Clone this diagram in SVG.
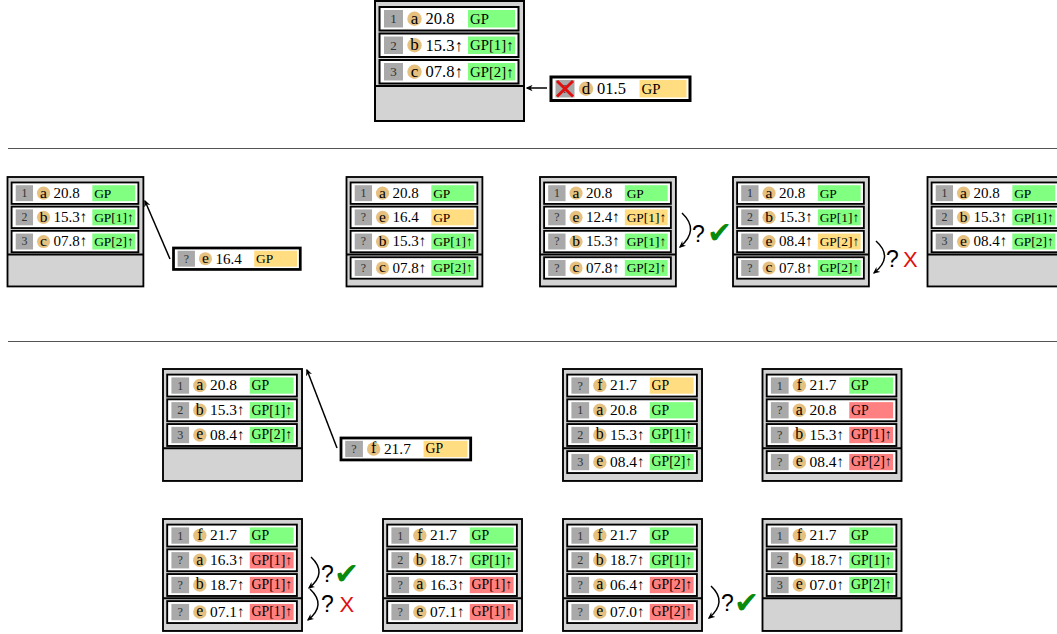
<svg xmlns="http://www.w3.org/2000/svg" xmlns:xlink="http://www.w3.org/1999/xlink" width="1057" height="634" viewBox="0 0 1057 634">
<style>
.ob{fill:#d3d3d3;stroke:#000;stroke-width:2}
.dv{stroke:#000;stroke-width:2}
.rw{fill:#fff;stroke:#000;stroke-width:2}
.rwc{fill:#fff;stroke:#000;stroke-width:3}
.nb{fill:#a9a9a9}
.ci{fill:#e6c07f}
.g{fill:#80ff80}
.y{fill:#ffdd80}
.r{fill:#ff8080}
text{font-family:"Liberation Serif","DejaVu Serif",serif;fill:#000}
.nt{font-size:13px;fill:#333;text-anchor:middle}
.lt{font-size:17px;text-anchor:middle}
.vt{font-size:16.5px}
.gt{font-size:14.8px}
.q{font-family:"Liberation Sans","DejaVu Sans",sans-serif;font-size:23px}
.ck{font-family:"DejaVu Sans",sans-serif;font-size:30px;fill:#0a8a0a}
.xx{font-family:"Liberation Sans","DejaVu Sans",sans-serif;font-size:22px;fill:#e01010}
.sep{stroke:#555;stroke-width:1}
.ar{fill:none;stroke:#000;stroke-width:1.5;marker-end:url(#ah)}
.rx{stroke:#e01010;stroke-width:3}
</style>
<defs>
<marker id="ah" viewBox="0 0 10 10" refX="8" refY="5" markerWidth="7" markerHeight="7" markerUnits="userSpaceOnUse" orient="auto">
<path d="M0,0.5 L10,5 L0,9.5 L3,5 z" fill="#000"/>
</marker>
<g id="rb"><rect class="rw" width="139" height="23.5"/><rect class="nb" x="4.5" y="3" width="19" height="17.5"/><circle class="ci" cx="35" cy="11.75" r="7.2"/></g>
<g id="rbc"><rect class="rwc" width="139" height="23.5"/><rect class="nb" x="4.5" y="3" width="19" height="17.5"/><circle class="ci" cx="35" cy="11.75" r="7.2"/></g>
<g id="frame"><rect class="ob" width="149" height="120"/><line class="dv" x1="0" y1="85" x2="149" y2="85"/></g>
</defs>

<g id="separators">
<line class="sep" x1="8" y1="148.5" x2="1057" y2="148.5"/>
<line class="sep" x1="8" y1="341.5" x2="1057" y2="341.5"/>
</g>

<!-- Top -->
<g id="box-top" transform="translate(375,1)">
<use href="#frame"/>
<g transform="translate(4.5,6)"><use href="#rb"/><rect class="g" x="88.5" y="3" width="47" height="17.5"/><text class="nt" x="14" y="16">1</text><text class="lt" x="35" y="16.5">a</text><text class="vt" x="46" y="17">20.8</text><text class="gt" x="90.5" y="16.5">GP</text></g>
<g transform="translate(4.5,32.5)"><use href="#rb"/><rect class="g" x="88.5" y="3" width="47" height="17.5"/><text class="nt" x="14" y="16">2</text><text class="lt" x="35" y="16.5">b</text><text class="vt" x="46" y="17">15.3↑</text><text class="gt" x="90.5" y="16.5">GP[1]↑</text></g>
<g transform="translate(4.5,59)"><use href="#rb"/><rect class="g" x="88.5" y="3" width="47" height="17.5"/><text class="nt" x="14" y="16">3</text><text class="lt" x="35" y="16.5">c</text><text class="vt" x="46" y="17">07.8↑</text><text class="gt" x="90.5" y="16.5">GP[2]↑</text></g>
</g>
<g id="cand-d" transform="translate(551,77)">
<use href="#rbc"/><rect class="y" x="88.5" y="3" width="47" height="17.5"/><text class="nt" x="14" y="16">?</text><line class="rx" x1="6" y1="4" x2="22" y2="19.5"/><line class="rx" x1="22" y1="4" x2="6" y2="19.5"/><text class="lt" x="35" y="16.5">d</text><text class="vt" x="46" y="17">01.5</text><text class="gt" x="90.5" y="16.5">GP</text>
</g>

<!-- Row 2 -->
<g id="box-b1" transform="translate(7.5,177) scale(0.912)">
<use href="#frame"/>
<g transform="translate(4.5,6)"><use href="#rb"/><rect class="g" x="88.5" y="3" width="47" height="17.5"/><text class="nt" x="14" y="16">1</text><text class="lt" x="35" y="16.5">a</text><text class="vt" x="46" y="17">20.8</text><text class="gt" x="90.5" y="16.5">GP</text></g>
<g transform="translate(4.5,32.5)"><use href="#rb"/><rect class="g" x="88.5" y="3" width="47" height="17.5"/><text class="nt" x="14" y="16">2</text><text class="lt" x="35" y="16.5">b</text><text class="vt" x="46" y="17">15.3↑</text><text class="gt" x="90.5" y="16.5">GP[1]↑</text></g>
<g transform="translate(4.5,59)"><use href="#rb"/><rect class="g" x="88.5" y="3" width="47" height="17.5"/><text class="nt" x="14" y="16">3</text><text class="lt" x="35" y="16.5">c</text><text class="vt" x="46" y="17">07.8↑</text><text class="gt" x="90.5" y="16.5">GP[2]↑</text></g>
</g>
<g id="cand-e" transform="translate(173.5,248) scale(0.912)">
<use href="#rbc"/><rect class="y" x="88.5" y="3" width="47" height="17.5"/><text class="nt" x="14" y="16">?</text><text class="lt" x="35" y="16.5">e</text><text class="vt" x="46" y="17">16.4</text><text class="gt" x="90.5" y="16.5">GP</text>
</g>

<g id="box-b2" transform="translate(346.5,177) scale(0.912)">
<use href="#frame"/>
<g transform="translate(4.5,6)"><use href="#rb"/><rect class="g" x="88.5" y="3" width="47" height="17.5"/><text class="nt" x="14" y="16">1</text><text class="lt" x="35" y="16.5">a</text><text class="vt" x="46" y="17">20.8</text><text class="gt" x="90.5" y="16.5">GP</text></g>
<g transform="translate(4.5,32.5)"><use href="#rb"/><rect class="y" x="88.5" y="3" width="47" height="17.5"/><text class="nt" x="14" y="16">?</text><text class="lt" x="35" y="16.5">e</text><text class="vt" x="46" y="17">16.4</text><text class="gt" x="90.5" y="16.5">GP</text></g>
<g transform="translate(4.5,59)"><use href="#rb"/><rect class="g" x="88.5" y="3" width="47" height="17.5"/><text class="nt" x="14" y="16">?</text><text class="lt" x="35" y="16.5">b</text><text class="vt" x="46" y="17">15.3↑</text><text class="gt" x="90.5" y="16.5">GP[1]↑</text></g>
<g transform="translate(4.5,88)"><use href="#rb"/><rect class="g" x="88.5" y="3" width="47" height="17.5"/><text class="nt" x="14" y="16">?</text><text class="lt" x="35" y="16.5">c</text><text class="vt" x="46" y="17">07.8↑</text><text class="gt" x="90.5" y="16.5">GP[2]↑</text></g>
</g>

<g id="box-b3" transform="translate(540,177) scale(0.912)">
<use href="#frame"/>
<g transform="translate(4.5,6)"><use href="#rb"/><rect class="g" x="88.5" y="3" width="47" height="17.5"/><text class="nt" x="14" y="16">1</text><text class="lt" x="35" y="16.5">a</text><text class="vt" x="46" y="17">20.8</text><text class="gt" x="90.5" y="16.5">GP</text></g>
<g transform="translate(4.5,32.5)"><use href="#rb"/><rect class="y" x="88.5" y="3" width="47" height="17.5"/><text class="nt" x="14" y="16">?</text><text class="lt" x="35" y="16.5">e</text><text class="vt" x="46" y="17">12.4↑</text><text class="gt" x="90.5" y="16.5">GP[1]↑</text></g>
<g transform="translate(4.5,59)"><use href="#rb"/><rect class="g" x="88.5" y="3" width="47" height="17.5"/><text class="nt" x="14" y="16">?</text><text class="lt" x="35" y="16.5">b</text><text class="vt" x="46" y="17">15.3↑</text><text class="gt" x="90.5" y="16.5">GP[1]↑</text></g>
<g transform="translate(4.5,88)"><use href="#rb"/><rect class="g" x="88.5" y="3" width="47" height="17.5"/><text class="nt" x="14" y="16">?</text><text class="lt" x="35" y="16.5">c</text><text class="vt" x="46" y="17">07.8↑</text><text class="gt" x="90.5" y="16.5">GP[2]↑</text></g>
</g>

<g id="box-b4" transform="translate(733,177) scale(0.912)">
<use href="#frame"/>
<g transform="translate(4.5,6)"><use href="#rb"/><rect class="g" x="88.5" y="3" width="47" height="17.5"/><text class="nt" x="14" y="16">1</text><text class="lt" x="35" y="16.5">a</text><text class="vt" x="46" y="17">20.8</text><text class="gt" x="90.5" y="16.5">GP</text></g>
<g transform="translate(4.5,32.5)"><use href="#rb"/><rect class="g" x="88.5" y="3" width="47" height="17.5"/><text class="nt" x="14" y="16">2</text><text class="lt" x="35" y="16.5">b</text><text class="vt" x="46" y="17">15.3↑</text><text class="gt" x="90.5" y="16.5">GP[1]↑</text></g>
<g transform="translate(4.5,59)"><use href="#rb"/><rect class="y" x="88.5" y="3" width="47" height="17.5"/><text class="nt" x="14" y="16">?</text><text class="lt" x="35" y="16.5">e</text><text class="vt" x="46" y="17">08.4↑</text><text class="gt" x="90.5" y="16.5">GP[2]↑</text></g>
<g transform="translate(4.5,88)"><use href="#rb"/><rect class="g" x="88.5" y="3" width="47" height="17.5"/><text class="nt" x="14" y="16">?</text><text class="lt" x="35" y="16.5">c</text><text class="vt" x="46" y="17">07.8↑</text><text class="gt" x="90.5" y="16.5">GP[2]↑</text></g>
</g>

<g id="box-b5" transform="translate(927.5,177) scale(0.912)">
<use href="#frame"/>
<g transform="translate(4.5,6)"><use href="#rb"/><rect class="g" x="88.5" y="3" width="47" height="17.5"/><text class="nt" x="14" y="16">1</text><text class="lt" x="35" y="16.5">a</text><text class="vt" x="46" y="17">20.8</text><text class="gt" x="90.5" y="16.5">GP</text></g>
<g transform="translate(4.5,32.5)"><use href="#rb"/><rect class="g" x="88.5" y="3" width="47" height="17.5"/><text class="nt" x="14" y="16">2</text><text class="lt" x="35" y="16.5">b</text><text class="vt" x="46" y="17">15.3↑</text><text class="gt" x="90.5" y="16.5">GP[1]↑</text></g>
<g transform="translate(4.5,59)"><use href="#rb"/><rect class="g" x="88.5" y="3" width="47" height="17.5"/><text class="nt" x="14" y="16">3</text><text class="lt" x="35" y="16.5">e</text><text class="vt" x="46" y="17">08.4↑</text><text class="gt" x="90.5" y="16.5">GP[2]↑</text></g>
</g>

<!-- Row 3 -->
<g id="box-c1" transform="translate(163,369) scale(0.933)">
<use href="#frame"/>
<g transform="translate(4.5,6)"><use href="#rb"/><rect class="g" x="88.5" y="3" width="47" height="17.5"/><text class="nt" x="14" y="16">1</text><text class="lt" x="35" y="16.5">a</text><text class="vt" x="46" y="17">20.8</text><text class="gt" x="90.5" y="16.5">GP</text></g>
<g transform="translate(4.5,32.5)"><use href="#rb"/><rect class="g" x="88.5" y="3" width="47" height="17.5"/><text class="nt" x="14" y="16">2</text><text class="lt" x="35" y="16.5">b</text><text class="vt" x="46" y="17">15.3↑</text><text class="gt" x="90.5" y="16.5">GP[1]↑</text></g>
<g transform="translate(4.5,59)"><use href="#rb"/><rect class="g" x="88.5" y="3" width="47" height="17.5"/><text class="nt" x="14" y="16">3</text><text class="lt" x="35" y="16.5">e</text><text class="vt" x="46" y="17">08.4↑</text><text class="gt" x="90.5" y="16.5">GP[2]↑</text></g>
</g>
<g id="cand-f" transform="translate(341,438) scale(0.933)">
<use href="#rbc"/><rect class="y" x="88.5" y="3" width="47" height="17.5"/><text class="nt" x="14" y="16">?</text><text class="lt" x="35" y="16.5">f</text><text class="vt" x="46" y="17">21.7</text><text class="gt" x="90.5" y="16.5">GP</text>
</g>

<g id="box-c2" transform="translate(563,369) scale(0.933)">
<use href="#frame"/>
<g transform="translate(4.5,6)"><use href="#rb"/><rect class="y" x="88.5" y="3" width="47" height="17.5"/><text class="nt" x="14" y="16">?</text><text class="lt" x="35" y="16.5">f</text><text class="vt" x="46" y="17">21.7</text><text class="gt" x="90.5" y="16.5">GP</text></g>
<g transform="translate(4.5,32.5)"><use href="#rb"/><rect class="g" x="88.5" y="3" width="47" height="17.5"/><text class="nt" x="14" y="16">1</text><text class="lt" x="35" y="16.5">a</text><text class="vt" x="46" y="17">20.8</text><text class="gt" x="90.5" y="16.5">GP</text></g>
<g transform="translate(4.5,59)"><use href="#rb"/><rect class="g" x="88.5" y="3" width="47" height="17.5"/><text class="nt" x="14" y="16">2</text><text class="lt" x="35" y="16.5">b</text><text class="vt" x="46" y="17">15.3↑</text><text class="gt" x="90.5" y="16.5">GP[1]↑</text></g>
<g transform="translate(4.5,88)"><use href="#rb"/><rect class="g" x="88.5" y="3" width="47" height="17.5"/><text class="nt" x="14" y="16">3</text><text class="lt" x="35" y="16.5">e</text><text class="vt" x="46" y="17">08.4↑</text><text class="gt" x="90.5" y="16.5">GP[2]↑</text></g>
</g>

<g id="box-c3" transform="translate(762.5,369) scale(0.933)">
<use href="#frame"/>
<g transform="translate(4.5,6)"><use href="#rb"/><rect class="g" x="88.5" y="3" width="47" height="17.5"/><text class="nt" x="14" y="16">1</text><text class="lt" x="35" y="16.5">f</text><text class="vt" x="46" y="17">21.7</text><text class="gt" x="90.5" y="16.5">GP</text></g>
<g transform="translate(4.5,32.5)"><use href="#rb"/><rect class="r" x="88.5" y="3" width="47" height="17.5"/><text class="nt" x="14" y="16">?</text><text class="lt" x="35" y="16.5">a</text><text class="vt" x="46" y="17">20.8</text><text class="gt" x="90.5" y="16.5">GP</text></g>
<g transform="translate(4.5,59)"><use href="#rb"/><rect class="r" x="88.5" y="3" width="47" height="17.5"/><text class="nt" x="14" y="16">?</text><text class="lt" x="35" y="16.5">b</text><text class="vt" x="46" y="17">15.3↑</text><text class="gt" x="90.5" y="16.5">GP[1]↑</text></g>
<g transform="translate(4.5,88)"><use href="#rb"/><rect class="r" x="88.5" y="3" width="47" height="17.5"/><text class="nt" x="14" y="16">?</text><text class="lt" x="35" y="16.5">e</text><text class="vt" x="46" y="17">08.4↑</text><text class="gt" x="90.5" y="16.5">GP[2]↑</text></g>
</g>

<!-- Row 4 -->
<g id="box-d1" transform="translate(163,519) scale(0.933)">
<use href="#frame"/>
<g transform="translate(4.5,6)"><use href="#rb"/><rect class="g" x="88.5" y="3" width="47" height="17.5"/><text class="nt" x="14" y="16">1</text><text class="lt" x="35" y="16.5">f</text><text class="vt" x="46" y="17">21.7</text><text class="gt" x="90.5" y="16.5">GP</text></g>
<g transform="translate(4.5,32.5)"><use href="#rb"/><rect class="r" x="88.5" y="3" width="47" height="17.5"/><text class="nt" x="14" y="16">?</text><text class="lt" x="35" y="16.5">a</text><text class="vt" x="46" y="17">16.3↑</text><text class="gt" x="90.5" y="16.5">GP[1]↑</text></g>
<g transform="translate(4.5,59)"><use href="#rb"/><rect class="r" x="88.5" y="3" width="47" height="17.5"/><text class="nt" x="14" y="16">?</text><text class="lt" x="35" y="16.5">b</text><text class="vt" x="46" y="17">18.7↑</text><text class="gt" x="90.5" y="16.5">GP[1]↑</text></g>
<g transform="translate(4.5,88)"><use href="#rb"/><rect class="r" x="88.5" y="3" width="47" height="17.5"/><text class="nt" x="14" y="16">?</text><text class="lt" x="35" y="16.5">e</text><text class="vt" x="46" y="17">07.1↑</text><text class="gt" x="90.5" y="16.5">GP[1]↑</text></g>
</g>

<g id="box-d2" transform="translate(383,519) scale(0.933)">
<use href="#frame"/>
<g transform="translate(4.5,6)"><use href="#rb"/><rect class="g" x="88.5" y="3" width="47" height="17.5"/><text class="nt" x="14" y="16">1</text><text class="lt" x="35" y="16.5">f</text><text class="vt" x="46" y="17">21.7</text><text class="gt" x="90.5" y="16.5">GP</text></g>
<g transform="translate(4.5,32.5)"><use href="#rb"/><rect class="g" x="88.5" y="3" width="47" height="17.5"/><text class="nt" x="14" y="16">2</text><text class="lt" x="35" y="16.5">b</text><text class="vt" x="46" y="17">18.7↑</text><text class="gt" x="90.5" y="16.5">GP[1]↑</text></g>
<g transform="translate(4.5,59)"><use href="#rb"/><rect class="r" x="88.5" y="3" width="47" height="17.5"/><text class="nt" x="14" y="16">?</text><text class="lt" x="35" y="16.5">a</text><text class="vt" x="46" y="17">16.3↑</text><text class="gt" x="90.5" y="16.5">GP[1]↑</text></g>
<g transform="translate(4.5,88)"><use href="#rb"/><rect class="r" x="88.5" y="3" width="47" height="17.5"/><text class="nt" x="14" y="16">?</text><text class="lt" x="35" y="16.5">e</text><text class="vt" x="46" y="17">07.1↑</text><text class="gt" x="90.5" y="16.5">GP[1]↑</text></g>
</g>

<g id="box-d3" transform="translate(563,519) scale(0.933)">
<use href="#frame"/>
<g transform="translate(4.5,6)"><use href="#rb"/><rect class="g" x="88.5" y="3" width="47" height="17.5"/><text class="nt" x="14" y="16">1</text><text class="lt" x="35" y="16.5">f</text><text class="vt" x="46" y="17">21.7</text><text class="gt" x="90.5" y="16.5">GP</text></g>
<g transform="translate(4.5,32.5)"><use href="#rb"/><rect class="g" x="88.5" y="3" width="47" height="17.5"/><text class="nt" x="14" y="16">2</text><text class="lt" x="35" y="16.5">b</text><text class="vt" x="46" y="17">18.7↑</text><text class="gt" x="90.5" y="16.5">GP[1]↑</text></g>
<g transform="translate(4.5,59)"><use href="#rb"/><rect class="r" x="88.5" y="3" width="47" height="17.5"/><text class="nt" x="14" y="16">?</text><text class="lt" x="35" y="16.5">a</text><text class="vt" x="46" y="17">06.4↑</text><text class="gt" x="90.5" y="16.5">GP[2]↑</text></g>
<g transform="translate(4.5,88)"><use href="#rb"/><rect class="r" x="88.5" y="3" width="47" height="17.5"/><text class="nt" x="14" y="16">?</text><text class="lt" x="35" y="16.5">e</text><text class="vt" x="46" y="17">07.0↑</text><text class="gt" x="90.5" y="16.5">GP[2]↑</text></g>
</g>

<g id="box-d4" transform="translate(762.5,519) scale(0.933)">
<use href="#frame"/>
<g transform="translate(4.5,6)"><use href="#rb"/><rect class="g" x="88.5" y="3" width="47" height="17.5"/><text class="nt" x="14" y="16">1</text><text class="lt" x="35" y="16.5">f</text><text class="vt" x="46" y="17">21.7</text><text class="gt" x="90.5" y="16.5">GP</text></g>
<g transform="translate(4.5,32.5)"><use href="#rb"/><rect class="g" x="88.5" y="3" width="47" height="17.5"/><text class="nt" x="14" y="16">2</text><text class="lt" x="35" y="16.5">b</text><text class="vt" x="46" y="17">18.7↑</text><text class="gt" x="90.5" y="16.5">GP[1]↑</text></g>
<g transform="translate(4.5,59)"><use href="#rb"/><rect class="g" x="88.5" y="3" width="47" height="17.5"/><text class="nt" x="14" y="16">3</text><text class="lt" x="35" y="16.5">e</text><text class="vt" x="46" y="17">07.0↑</text><text class="gt" x="90.5" y="16.5">GP[2]↑</text></g>
</g>

<g id="connectors">
<path class="ar" d="M547,88 L527,88"/>
<path class="ar" d="M170,259 L145,201"/>
<path class="ar" d="M337,448 L307,370"/>
<path class="ar" d="M682,213 Q700,230 680,247"/>
<path class="ar" d="M876,241 Q894,257 874,273"/>
<path class="ar" d="M311,557 Q328,573 309,588"/>
<path class="ar" d="M310,589 Q327,605 308,620"/>
<path class="ar" d="M711,586 Q728,602 709,618"/>
</g>
<g id="marks">
<text class="q" x="692" y="242">?</text><text class="ck" x="707" y="243">✔</text>
<text class="q" x="886" y="267">?</text><text class="xx" x="903" y="267">X</text>
<text class="q" x="321" y="582">?</text><text class="ck" x="334" y="584">✔</text>
<text class="q" x="321" y="612">?</text><text class="xx" x="339.5" y="612">X</text>
<text class="q" x="721" y="611">?</text><text class="ck" x="734" y="612.5">✔</text>
</g>
</svg>
